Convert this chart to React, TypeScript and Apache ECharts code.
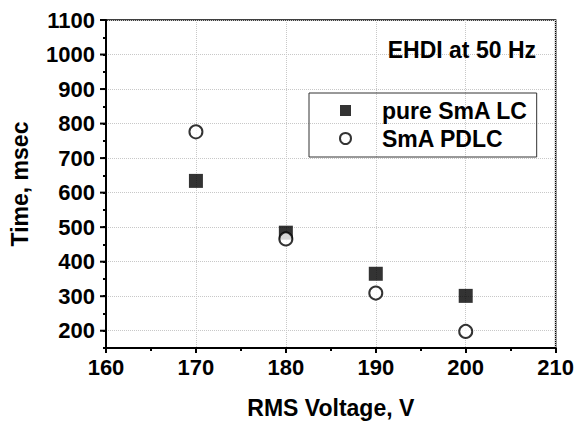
import React, { useEffect, useRef } from "react";
import * as echarts from "echarts";

const voltages = [170, 180, 190, 200];
const pureSmALC = [634, 484, 365, 301];
const smaPDLC = [776, 466, 309, 198];
const seriesNames = ["pure SmA LC", "SmA PDLC"];
const yMajorTicks = [200, 300, 400, 500, 600, 700, 800, 900, 1000, 1100];
const titleText = "EHDI at 50 Hz";
const xName = "RMS Voltage, V";
const yName = "Time, msec";

const FONT = "'Liberation Sans', Arial, Helvetica, sans-serif";

export default function App() {
  const ref = useRef<HTMLDivElement>(null);
  useEffect(() => {
    if (!ref.current) return;
    const chart = echarts.init(ref.current, null, { renderer: "svg" });
    const gridLeft = 103;
    chart.setOption({
      animation: false,
      backgroundColor: "#fff",
      textStyle: { fontFamily: FONT },
      title: {
        text: titleText,
        right: 41,
        top: 38,
        padding: 0,
        textStyle: { fontFamily: FONT, fontSize: 23, fontWeight: "bold", color: "#000" },
      },
      legend: {
        data: seriesNames,
        orient: "vertical",
        left: 309,
        top: 93,
        padding: [6, 9, 7, 30],
        itemGap: 5,
        itemWidth: 11,
        itemHeight: 11,
        borderColor: "#333",
        borderWidth: 1,
        borderRadius: 0,
        textStyle: {
          fontFamily: FONT,
          fontSize: 23,
          fontWeight: "bold",
          color: "#000",
          padding: [0, 0, 0, 26],
        },
      },
      grid: {
        left: gridLeft,
        top: 20,
        right: 20,
        bottom: 78,
        show: true,
        borderColor: "#000",
        borderWidth: 1.5,
        backgroundColor: "transparent",
      },
      xAxis: {
        type: "value",
        min: 160,
        max: 210,
        interval: 10,
        name: xName,
        nameLocation: "middle",
        nameGap: 48,
        nameTextStyle: { fontFamily: FONT, fontSize: 23, fontWeight: "bold", color: "#000" },
        axisLine: { show: true, lineStyle: { color: "#000", width: 2 } },
        axisTick: { show: true, length: 5, lineStyle: { color: "#000", width: 2 } },
        minorTick: { show: true, splitNumber: 2, length: 3, lineStyle: { color: "#000", width: 2 } },
        axisLabel: {
          margin: 8,
          fontFamily: FONT,
          fontSize: 22,
          fontWeight: "bold",
          color: "#000",
        },
        splitLine: { show: true, lineStyle: { color: "#c8c8c8", type: "dotted", width: 1 } },
      },
      yAxis: {
        type: "value",
        min: 150,
        max: 1100,
        interval: 50,
        name: yName,
        nameLocation: "middle",
        nameGap: 75,
        nameTextStyle: { fontFamily: FONT, fontSize: 23, fontWeight: "bold", color: "#000" },
        axisLine: { show: true, lineStyle: { color: "#000", width: 2 } },
        axisTick: { show: true, length: 3, lineStyle: { color: "#000", width: 2 } },
        axisLabel: {
          margin: 11,
          fontFamily: FONT,
          fontSize: 22,
          fontWeight: "bold",
          color: "#000",
          formatter: (v: number) => (v % 100 === 0 ? String(v) : ""),
        },
        splitLine: {
          show: true,
          lineStyle: { color: ["rgba(0,0,0,0)", "#c8c8c8"], type: "dotted", width: 1 },
        },
      },
      series: [
        {
          name: seriesNames[0],
          type: "scatter",
          symbol: "rect",
          symbolSize: 14,
          itemStyle: { color: "#000" },
          data: voltages.map((v, i) => [v, pureSmALC[i]]),
          z: 3,
        },
        {
          name: seriesNames[1],
          type: "scatter",
          symbol: "circle",
          symbolSize: 13,
          itemStyle: { color: "#fff", borderColor: "#000", borderWidth: 2 },
          data: voltages.map((v, i) => [v, smaPDLC[i]]),
          z: 4,
        },
        {
          name: "yMajorTicks",
          type: "custom",
          clip: false,
          silent: true,
          z: 5,
          data: yMajorTicks.map((t) => [160, t]),
          renderItem: (params: any, api: any) => {
            const p = api.coord([api.value(0), api.value(1)]);
            return {
              type: "line",
              shape: { x1: p[0] - 6, y1: p[1], x2: p[0], y2: p[1] },
              style: { stroke: "#000", lineWidth: 2 },
            };
          },
        },
      ],
    });
    return () => chart.dispose();
  }, []);
  return (
    <div
      ref={ref}
      style={{ position: "fixed", left: 0, top: 0, width: 577, height: 426, background: "#fff" }}
    />
  );
}
